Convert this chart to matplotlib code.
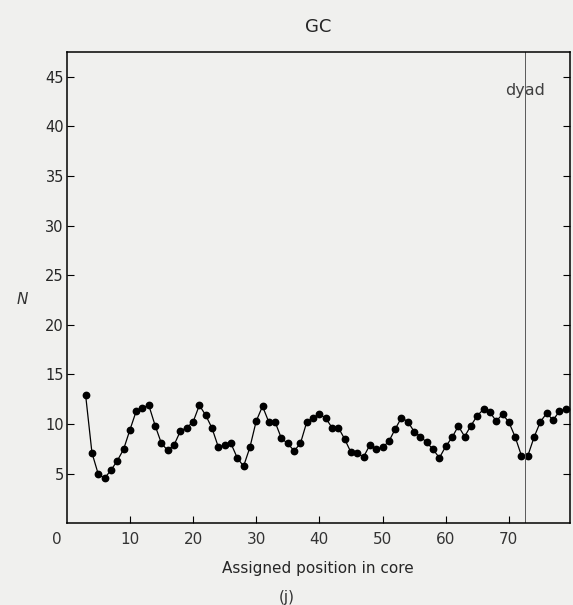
import numpy as np
import matplotlib
matplotlib.use('Agg')
import matplotlib.pyplot as plt
import matplotlib.transforms as mtransforms

# GC counts per assigned position in the core
position = np.arange(3, 80)
gc_count = [12.9, 7.1, 4.95, 4.55, 5.35, 6.3, 7.45, 9.4, 11.3, 11.65, 11.9, 9.85,
            8.05, 7.35, 7.9, 9.3, 9.65, 10.2, 11.9, 10.9, 9.6, 7.7, 7.85, 8.05,
            6.6, 5.75, 7.65, 10.3, 11.8, 10.2, 10.2, 8.55, 8.05, 7.3, 8.05, 10.2,
            10.65, 11.0, 10.6, 9.65, 9.65, 8.5, 7.15, 7.05, 6.7, 7.9, 7.45, 7.65,
            8.25, 9.5, 10.65, 10.25, 9.25, 8.75, 8.15, 7.45, 6.6, 7.75, 8.65, 9.8,
            8.75, 9.85, 10.85, 11.5, 11.2, 10.3, 11.0, 10.2, 8.7, 6.8, 6.8, 8.7,
            10.25, 11.1, 10.4, 11.3, 11.5]
dyad = 72.5

xticks = [0, 10, 20, 30, 40, 50, 60, 70]
yticks = [5, 10, 15, 20, 25, 30, 35, 40, 45]

bg = '#f0f0ee'
fig = plt.figure(figsize=(5.73, 6.05), dpi=100, facecolor=bg)
ax = fig.add_axes([0.1164, 0.135, 0.8775, 0.779], facecolor=bg)

ax.plot(position, gc_count, color='black', linewidth=0.9, marker='o',
        markersize=4.6, markerfacecolor='black', markeredgecolor='black')
ax.axvline(dyad, color='0.35', linewidth=0.7)
ax.text(dyad, 43.6, 'dyad', ha='center', va='center', fontsize=11.5,
        family='DejaVu Sans', color='0.25')

ax.set_xlim(0, 79.6)
ax.set_ylim(0, 47.5)
ax.set_xticks(xticks)
ax.set_xticklabels([str(v) for v in xticks], fontsize=11, color='0.2')
ax.set_yticks(yticks)
ax.set_yticklabels([str(v) for v in yticks], fontsize=10.5, color='0.15')
ax.tick_params(axis='both', direction='in', length=5, width=0.8)
ax.tick_params(axis='y', right=True, pad=2)
ax.tick_params(axis='x', pad=6)
ax.xaxis.get_major_ticks()[0].tick1line.set_visible(False)
# the origin "0" sits a little left of the corner
zero = ax.get_xticklabels()[0]
zero.set_transform(zero.get_transform() +
                   mtransforms.ScaledTranslation(-0.1, 0, fig.dpi_scale_trans))
for s in ax.spines.values():
    s.set_linewidth(1.1)

ax.set_xlabel('Assigned position in core', fontsize=11, color='0.15', labelpad=10)
ax.text(-0.1, 0.475, 'N', transform=ax.transAxes, fontsize=11, style='italic',
        color='0.2', ha='left', va='center')
fig.text(0.555, 0.955, 'GC', ha='center', va='center', fontsize=13, color='0.15')
fig.text(0.5, 0.013, '(j)', ha='center', va='center', fontsize=11, color='0.2')

fig.savefig('out.png', dpi=100, facecolor=bg)
